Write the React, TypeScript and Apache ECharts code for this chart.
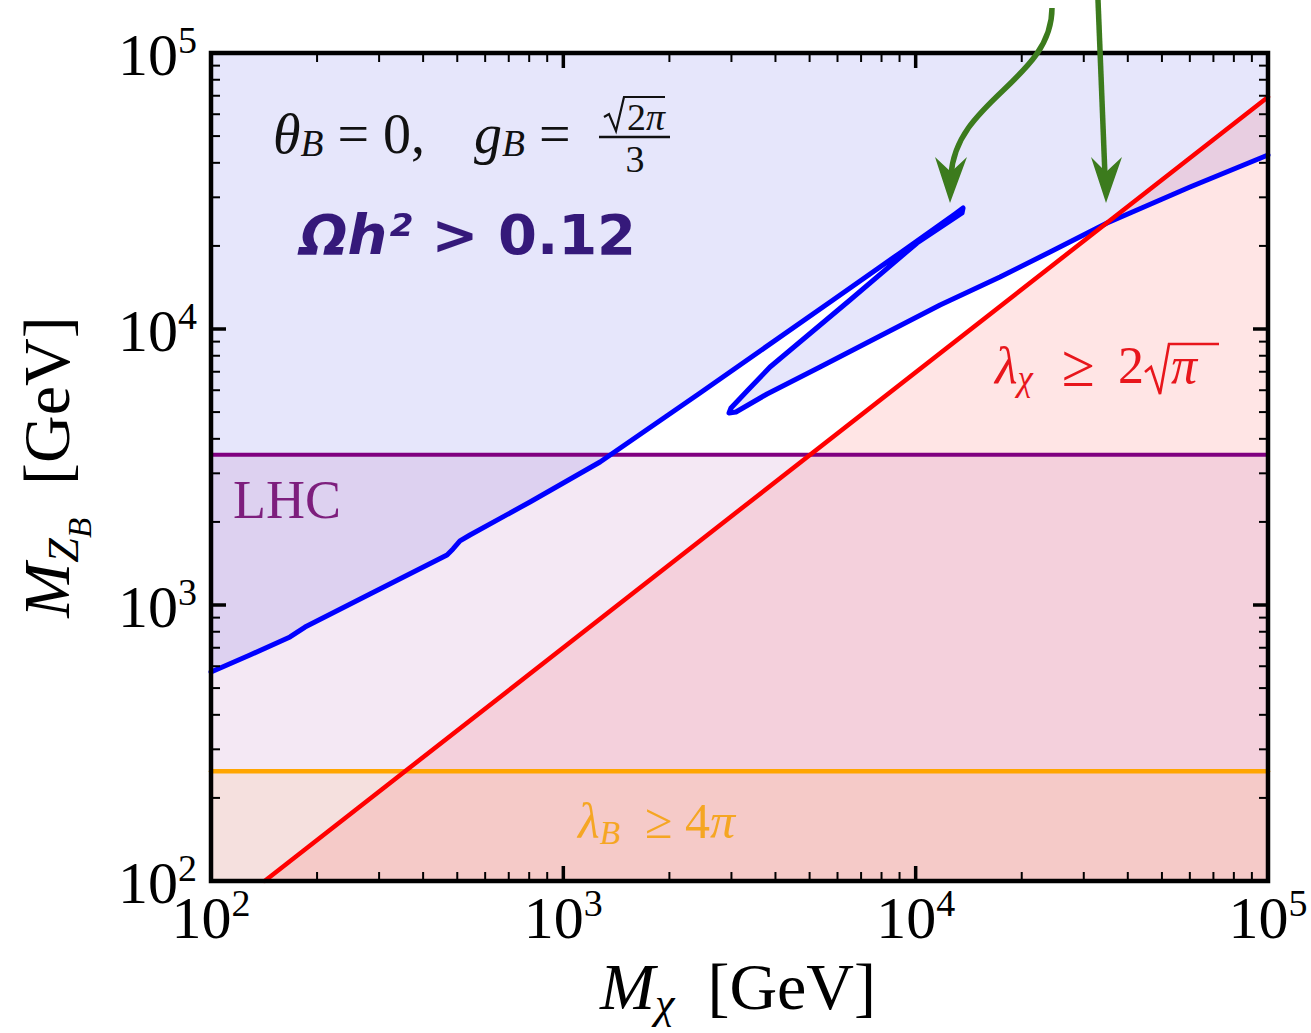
import React, { useEffect, useRef } from 'react';
import * as echarts from 'echarts';

const SERIF = '"Liberation Serif", "Times New Roman", serif';
const SANS = '"DejaVu Sans", "Noto Sans", sans-serif';

// ---------- axis setup (GeV) ----------
const xRange = [100, 100000];
const yRange = [100, 100000];
const majorTicks = [100, 1000, 10000, 100000];
const minorTicks = [
  200, 300, 400, 500, 600, 700, 800, 900,
  2000, 3000, 4000, 5000, 6000, 7000, 8000, 9000,
  20000, 30000, 40000, 50000, 60000, 70000, 80000, 90000,
];
const tickExponents: Record<number, string> = { 2: '2', 3: '3', 4: '4', 5: '5' };

// ---------- Ωh² = 0.12 contour (M_chi, M_ZB) ----------
const relicMChi = [
  100, 129, 167.6, 184.9, 282.7, 467.6, 486.3, 508.9, 543.3, 804.3, 1271, 2443,
  5826, 9030, 12930, 13630, 13540, 10090, 6512, 3861, 3343, 2991, 2953, 3090,
  3786, 5352, 7921, 11730, 17350, 24060, 34930, 60070, 100000,
];
const relicMZ = [
  572, 659, 766, 832, 1096, 1518, 1596, 1706, 1793, 2362, 3297, 5864,
  12740, 18860, 26110, 27440, 26320, 20490, 12740, 7284, 6012, 5173, 4964, 5004,
  5815, 7284, 9433, 12220, 15430, 19010, 24220, 32700, 42700,
];

// ---------- λχ = 2√π boundary ----------
const perturbMChi = [142, 100000];
const perturbMZ = [100, 69300];

// ---------- horizontal bounds ----------
const lhcMZ = 3500;
const lambdaBMZ = 250;

const relicPts = relicMChi.map((x, i) => [x, relicMZ[i]]);
const perturbPts = perturbMChi.map((x, i) => [x, perturbMZ[i]]);

const relicRegion = [...relicPts, [xRange[1], yRange[1]], [xRange[0], yRange[1]]];
const perturbRegion = [...perturbPts, [xRange[1], yRange[0]]];
const lhcRegion = [[xRange[0], yRange[0]], [xRange[1], yRange[0]], [xRange[1], lhcMZ], [xRange[0], lhcMZ]];
const lambdaBRegion = [[xRange[0], yRange[0]], [xRange[1], yRange[0]], [xRange[1], lambdaBMZ], [xRange[0], lambdaBMZ]];

function polygonSeries(points: number[][], fill: string) {
  return {
    type: 'custom',
    coordinateSystem: 'cartesian2d',
    silent: true,
    clip: true,
    z: 1,
    data: points,
    encode: { x: 0, y: 1 },
    renderItem: (params: any, api: any) => {
      if (params.dataIndex !== 0) return null;
      return {
        type: 'polygon',
        shape: { points: points.map((p) => api.coord(p)) },
        style: { fill },
      };
    },
  };
}

function lineSeries(points: number[][], color: string, width: number, z: number) {
  return {
    type: 'line',
    data: points,
    showSymbol: false,
    symbol: 'none',
    silent: true,
    z,
    lineStyle: { color, width, join: 'round', cap: 'round' },
  };
}

function mathRich(size: number, color: string, drop: number, drop2 = 0) {
  const s = size * 0.67;
  const s2 = size * 0.5;
  return {
    i: { fontFamily: SERIF, fontStyle: 'italic', fontSize: size, fill: color, verticalAlign: 'top' },
    r: { fontFamily: SERIF, fontSize: size, fill: color, verticalAlign: 'top' },
    b: {
      fontFamily: SERIF, fontStyle: 'italic', fontSize: s, fill: color, verticalAlign: 'top',
      padding: [Math.round(0.84 * size - 0.84 * s + drop), 0, 0, 0],
    },
    bb: {
      fontFamily: SERIF, fontStyle: 'italic', fontSize: s2, fill: color, verticalAlign: 'top',
      padding: [Math.round(0.84 * size - 0.84 * s2 + drop2), 0, 0, 0],
    },
  };
}

const GREEN = '#3c7b1d';
const RED_TXT = '#e8161c';

export default function App() {
  const ref = useRef<HTMLDivElement>(null);

  useEffect(() => {
    document.body.style.margin = '0';
    const chart = echarts.init(ref.current!, null, { renderer: 'svg' });

    const tickRich = {
      m: { fontFamily: SERIF, fontSize: 60, color: '#000', verticalAlign: 'top', padding: [4, 0, 0, 0] },
      s: { fontFamily: SERIF, fontSize: 38, color: '#000', verticalAlign: 'top' },
    };
    const fmt = (v: number) => `{m|10}{s|${tickExponents[Math.round(Math.log10(v))] ?? ''}}`;

    const allXTicks = [...majorTicks, ...minorTicks].map((v) => [v, yRange[0]]);
    const allYTicks = [...majorTicks, ...minorTicks].map((v) => [xRange[0], v]);

    const tickLine = (x1: number, y1: number, x2: number, y2: number, w: number) => ({
      type: 'line', shape: { x1, y1, x2, y2 }, style: { stroke: '#000', lineWidth: w },
    });

    const option: any = {
      animation: false,
      grid: { left: 211, top: 53, right: 43, bottom: 152, containLabel: false },
      xAxis: {
        type: 'log', logBase: 10, min: xRange[0], max: xRange[1],
        axisLine: { show: false }, axisTick: { show: false }, splitLine: { show: false },
        axisLabel: { margin: 3, formatter: fmt, rich: tickRich },
      },
      yAxis: {
        type: 'log', logBase: 10, min: yRange[0], max: yRange[1],
        axisLine: { show: false }, axisTick: { show: false }, splitLine: { show: false },
        axisLabel: { margin: 14, formatter: fmt, rich: tickRich },
      },
      series: [
        polygonSeries(relicRegion, 'rgba(30,30,220,0.11)'),
        polygonSeries(perturbRegion, 'rgba(255,0,0,0.10)'),
        polygonSeries(lhcRegion, 'rgba(128,0,128,0.09)'),
        polygonSeries(lambdaBRegion, 'rgba(255,140,0,0.09)'),
        lineSeries([[xRange[0], lambdaBMZ], [xRange[1], lambdaBMZ]], '#ffa500', 4.5, 2),
        lineSeries([[xRange[0], lhcMZ], [xRange[1], lhcMZ]], '#800080', 4, 2),
        lineSeries(relicPts, '#0000ff', 5, 3),
        lineSeries(perturbPts, '#ff0000', 4.5, 4),
        {
          type: 'custom', silent: true, clip: false, z: 6,
          data: allXTicks, encode: { x: 0, y: 1 },
          renderItem: (params: any, api: any) => {
            const v = api.value(0);
            const major = majorTicks.includes(v);
            const len = major ? 15 : 9;
            const w = major ? 3.5 : 2;
            const b = api.coord([v, yRange[0]]);
            const t = api.coord([v, yRange[1]]);
            return {
              type: 'group',
              children: [
                tickLine(b[0], b[1], b[0], b[1] - len, w),
                tickLine(t[0], t[1], t[0], t[1] + len, w),
              ],
            };
          },
        },
        {
          type: 'custom', silent: true, clip: false, z: 6,
          data: allYTicks, encode: { x: 0, y: 1 },
          renderItem: (params: any, api: any) => {
            const v = api.value(1);
            const major = majorTicks.includes(v);
            const len = major ? 15 : 9;
            const w = major ? 3.5 : 2;
            const l = api.coord([xRange[0], v]);
            const r = api.coord([xRange[1], v]);
            return {
              type: 'group',
              children: [
                tickLine(l[0], l[1], l[0] + len, l[1], w),
                tickLine(r[0], r[1], r[0] - len, r[1], w),
              ],
            };
          },
        },
        {
          type: 'custom', silent: true, clip: false, z: 7,
          data: [[xRange[0], yRange[0]]], encode: { x: 0, y: 1 },
          renderItem: (params: any, api: any) => {
            const tl = api.coord([xRange[0], yRange[1]]);
            const br = api.coord([xRange[1], yRange[0]]);
            return {
              type: 'rect',
              shape: { x: tl[0], y: tl[1], width: br[0] - tl[0], height: br[1] - tl[1] },
              style: { fill: 'none', stroke: '#000', lineWidth: 4.5 },
            };
          },
        },
      ],
      graphic: [
        // green arrows
        {
          type: 'bezierCurve', silent: true, z: 20,
          shape: { x1: 1052, y1: 8, cpx1: 1052, cpy1: 80, cpx2: 955, cpy2: 100, x2: 951, y2: 176 },
          style: { stroke: GREEN, lineWidth: 5.5, fill: 'none' },
        },
        { type: 'polygon', silent: true, z: 20, shape: { points: [[950, 203], [935, 157], [951, 172], [967, 157]] }, style: { fill: GREEN } },
        { type: 'line', silent: true, z: 20, shape: { x1: 1098, y1: 0, x2: 1105, y2: 176 }, style: { stroke: GREEN, lineWidth: 5.5 } },
        { type: 'polygon', silent: true, z: 20, shape: { points: [[1106, 203], [1091, 157], [1106, 172], [1122, 157]] }, style: { fill: GREEN } },

        // parameter text
        {
          type: 'text', silent: true, z: 20, x: 273, y: 106,
          style: { text: '{i|θ}{b|B}{r| = 0,}', rich: mathRich(56, '#111', 2), verticalAlign: 'top' },
        },
        {
          type: 'text', silent: true, z: 20, x: 474, y: 106,
          style: { text: '{i|g}{b|B}{r| =}', rich: mathRich(56, '#111', 2), verticalAlign: 'top' },
        },
        {
          type: 'polyline', silent: true, z: 20,
          shape: { points: [[604, 117], [609, 114], [616, 131], [624, 97], [665, 97]] },
          style: { stroke: '#111', lineWidth: 2.2, fill: 'none' },
        },
        {
          type: 'text', silent: true, z: 20, x: 627, y: 98,
          style: { text: '{r|2}{i|π}', rich: mathRich(38, '#111', 0), verticalAlign: 'top' },
        },
        { type: 'line', silent: true, z: 20, shape: { x1: 599, y1: 137, x2: 670, y2: 137 }, style: { stroke: '#111', lineWidth: 2.5 } },
        {
          type: 'text', silent: true, z: 20, x: 635, y: 140,
          style: { text: '3', fontFamily: SERIF, fontSize: 38, fill: '#111', align: 'center', verticalAlign: 'top' },
        },

        // Ωh² > 0.12
        {
          type: 'text', silent: true, z: 20, x: 300, y: 206,
          style: {
            text: '{o|Ωh²}{r| > 0.12}',
            verticalAlign: 'top',
            rich: {
              o: { fontFamily: SANS, fontWeight: 'bold', fontStyle: 'italic', fontSize: 56, fill: '#35197a', verticalAlign: 'top' },
              r: { fontFamily: SANS, fontWeight: 'bold', fontSize: 56, fill: '#35197a', verticalAlign: 'top' },
            },
          },
        },

        // LHC
        {
          type: 'text', silent: true, z: 20, x: 233, y: 473,
          style: { text: 'LHC', fontFamily: SERIF, fontSize: 54, fill: '#7d1e7d', verticalAlign: 'top' },
        },

        // λχ ≥ 2√π
        {
          type: 'text', silent: true, z: 20, x: 995, y: 339,
          style: { text: '{i|λ}{b|χ}', rich: mathRich(52, RED_TXT, 8), verticalAlign: 'top' },
        },
        {
          type: 'text', silent: true, z: 20, x: 1062, y: 336,
          style: { text: '{r|≥}', rich: mathRich(60, RED_TXT, 0), verticalAlign: 'top' },
        },
        {
          type: 'text', silent: true, z: 20, x: 1118, y: 339,
          style: { text: '{r|2}', rich: mathRich(52, RED_TXT, 0), verticalAlign: 'top' },
        },
        {
          type: 'polyline', silent: true, z: 20,
          shape: { points: [[1145, 372], [1151, 367], [1160, 394], [1169, 344], [1219, 344]] },
          style: { stroke: RED_TXT, lineWidth: 2.6, fill: 'none' },
        },
        {
          type: 'text', silent: true, z: 20, x: 1171, y: 339,
          style: { text: '{i|π}', rich: mathRich(52, RED_TXT, 0), verticalAlign: 'top' },
        },

        // λB ≥ 4π
        {
          type: 'text', silent: true, z: 20, x: 578, y: 796,
          style: { text: '{i|λ}{b|B}{r|  ≥ 4}{i|π}', rich: mathRich(50, '#f5a623', 5), verticalAlign: 'top' },
        },

        // axis titles
        {
          type: 'text', silent: true, z: 20, x: 738, y: 953,
          style: { text: '{i|M}{b|χ}{r|  [GeV]}', rich: mathRich(66, '#000', 10), align: 'center', verticalAlign: 'top' },
        },
        {
          type: 'text', silent: true, z: 20, x: 55, y: 467, rotation: Math.PI / 2,
          style: { x: 0, y: 0, text: '{i|M}{b|Z}{bb|B}{r|  [GeV]}', rich: mathRich(66, '#000', 10, 22), align: 'center', verticalAlign: 'middle' },
        },
      ],
    };

    chart.setOption(option);
    return () => chart.dispose();
  }, []);

  return <div ref={ref} style={{ width: 1311, height: 1033 }} />;
}
